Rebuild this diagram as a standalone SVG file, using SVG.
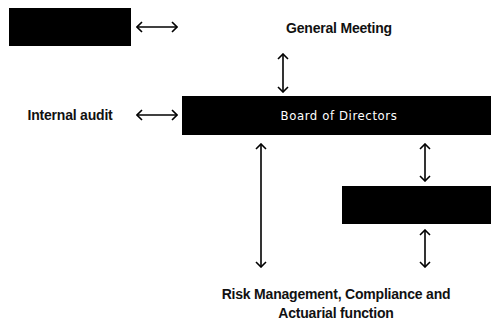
<svg xmlns="http://www.w3.org/2000/svg" width="491" height="320" viewBox="0 0 491 320">
<style>
.lbl{font-family:"Liberation Sans",Arial,sans-serif;font-weight:bold;font-size:14px;fill:#111;letter-spacing:-0.2px}
.box{fill:#000}
.wt{font-family:"DejaVu Sans Condensed","Liberation Sans",sans-serif;font-size:13px;fill:#fff;letter-spacing:0.6px}
.c{stroke:#000;stroke-width:1.6;fill:none;marker-start:url(#ah);marker-end:url(#ah)}
</style>
<defs>
<marker id="ah" viewBox="0 0 10 12" refX="9" refY="6" markerWidth="10" markerHeight="12" markerUnits="userSpaceOnUse" orient="auto-start-reverse">
<path d="M4,1 L9,6 L4,11" fill="none" stroke="#000" stroke-width="1.6"/>
</marker>
</defs>
<g id="node-top-left"><rect class="box" x="9" y="8" width="122" height="38"/></g>
<g id="node-general-meeting"><text class="lbl" x="339" y="33" text-anchor="middle">General Meeting</text></g>
<g id="node-internal-audit"><text class="lbl" x="70" y="120" text-anchor="middle">Internal audit</text></g>
<g id="node-board"><rect class="box" x="182" y="96" width="309" height="39"/><text class="wt" x="339" y="120" text-anchor="middle">Board of Directors</text></g>
<g id="node-right"><rect class="box" x="342" y="186" width="149" height="38"/></g>
<g id="node-risk"><text class="lbl" x="336" y="299" text-anchor="middle">Risk Management, Compliance and</text><text class="lbl" x="336" y="318" text-anchor="middle">Actuarial function</text></g>
<g id="connectors">
<line class="c" x1="137" y1="27" x2="177" y2="27"/>
<line class="c" x1="137" y1="115" x2="177" y2="115"/>
<line class="c" x1="283" y1="54" x2="283" y2="92"/>
<line class="c" x1="261" y1="144" x2="261" y2="267"/>
<line class="c" x1="425" y1="144" x2="425" y2="181"/>
<line class="c" x1="425" y1="230" x2="425" y2="267"/>
</g>
</svg>
